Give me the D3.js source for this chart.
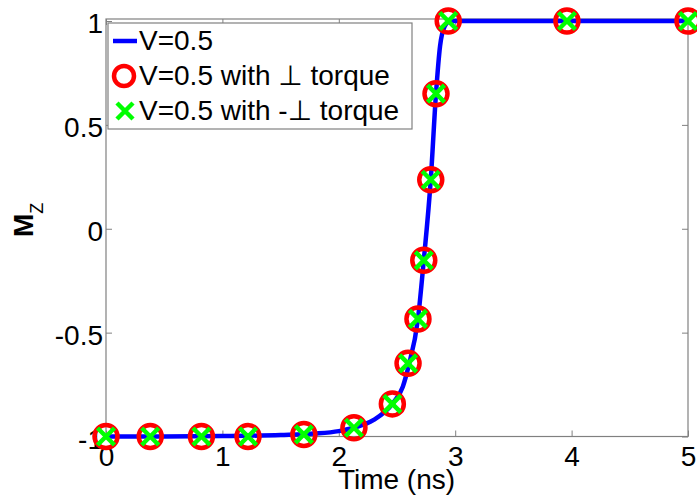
<!DOCTYPE html>
<html>
<head>
<meta charset="utf-8">
<script src="https://cdn.jsdelivr.net/npm/d3@7"></script>
<style>
  html, body { margin: 0; padding: 0; background: #fff; }
  svg text { font-family: "Liberation Sans", Arial, "DejaVu Sans", sans-serif; fill: #000; }
</style>
</head>
<body>
<svg id="chart" width="697" height="500"></svg>
<script>
// Mz switching curve at V = 0.5 (continuous simulation)
const lineTime = [0, 0.5, 1, 1.5, 1.8, 2.0, 2.13, 2.3, 2.46, 2.55, 2.6, 2.68, 2.73, 2.79, 2.835, 2.87, 2.91, 2.95, 3.0, 4, 5];
const lineMz   = [-1, -1, -0.998, -0.993, -0.986, -0.974, -0.958, -0.92, -0.843, -0.76, -0.66, -0.434, -0.152, 0.236, 0.65, 0.88, 0.975, 0.997, 1, 1, 1];

// Sampled points with perpendicular torque (+ and -)
const markTime = [0, 0.38, 0.82, 1.22, 1.7, 2.13, 2.46, 2.595, 2.68, 2.73, 2.79, 2.835, 2.94, 3.96, 5.0];
const perpMz    = [-1, -1, -1, -1, -0.99, -0.958, -0.843, -0.648, -0.434, -0.152, 0.236, 0.65, 1, 1, 1];
const negPerpMz = [-1, -1, -1, -1, -0.99, -0.958, -0.843, -0.648, -0.434, -0.152, 0.236, 0.65, 1, 1, 1];

const xTicks = [0, 1, 2, 3, 4, 5];
const yTicks = [-1, -0.5, 0, 0.5, 1];
const legendLabels = ["V=0.5", "V=0.5 with \u22A5 torque", "V=0.5 with -\u22A5 torque"];

const svg = d3.select("#chart");
const plotL = 106, plotR = 688, plotT = 21, plotB = 436.5;

const x = d3.scaleLinear().domain([0, 5]).range([plotL, plotR]);
const y = d3.scaleLinear().domain([-1, 1]).range([plotB, plotT]);

const axisColor = "#808080";
const fontSize = 28;

// axes box
const gAxes = svg.append("g");
gAxes.append("rect")
  .attr("x", plotL).attr("y", plotT - 2)
  .attr("width", plotR - plotL).attr("height", plotB - plotT + 2)
  .attr("fill", "none").attr("stroke", axisColor).attr("stroke-width", 1.2);

// bottom / top ticks (inward)
const xb = gAxes.append("g").attr("transform", `translate(0,${plotB})`)
  .call(d3.axisBottom(x).tickValues(xTicks).tickSizeInner(-6).tickSizeOuter(0).tickFormat(d3.format("d")));
xb.select(".domain").remove();
xb.selectAll("line").attr("stroke", axisColor);
xb.selectAll("text").attr("font-size", fontSize).attr("dy", 0).attr("y", 29);

const xt = gAxes.append("g").attr("transform", `translate(0,${plotT - 2})`)
  .call(d3.axisTop(x).tickValues(xTicks).tickSizeInner(-6).tickSizeOuter(0).tickFormat(""));
xt.select(".domain").remove();
xt.selectAll("line").attr("stroke", axisColor);

// left / right ticks (inward)
const yl = gAxes.append("g").attr("transform", `translate(${plotL},0)`)
  .call(d3.axisLeft(y).tickValues(yTicks).tickSizeInner(-6).tickSizeOuter(0).tickFormat(d => String(d)));
yl.select(".domain").remove();
yl.selectAll("line").attr("stroke", axisColor);
yl.selectAll("text").attr("font-size", fontSize).attr("x", -3).attr("dy", "0.42em");

const yr = gAxes.append("g").attr("transform", `translate(${plotR},0)`)
  .call(d3.axisRight(y).tickValues(yTicks).tickSizeInner(-6).tickSizeOuter(0).tickFormat(""));
yr.select(".domain").remove();
yr.selectAll("line").attr("stroke", axisColor);

// axis titles
svg.append("text")
  .attr("x", 396.5).attr("y", 489)
  .attr("text-anchor", "middle").attr("font-size", fontSize)
  .text("Time (ns)");

const yTitle = svg.append("text")
  .attr("transform", "translate(33,237) rotate(-90)")
  .attr("text-anchor", "start").attr("font-size", fontSize).attr("font-weight", "bold");
yTitle.append("tspan").text("M");
yTitle.append("tspan").attr("font-size", 18).attr("font-weight", "normal").attr("dy", 10).text("Z");

// curve
const lineData = lineTime.map((t, i) => [t, lineMz[i]]);
svg.append("path")
  .datum(lineData)
  .attr("fill", "none").attr("stroke", "#0000ff").attr("stroke-width", 4.5)
  .attr("stroke-linejoin", "round")
  .attr("d", d3.line().x(d => x(d[0])).y(d => y(d[1])).curve(d3.curveMonotoneX));

// circle markers
const perpData = markTime.map((t, i) => [t, perpMz[i]]);
svg.append("g").selectAll("circle").data(perpData).join("circle")
  .attr("cx", d => x(d[0])).attr("cy", d => y(d[1])).attr("r", 11.5)
  .attr("fill", "none").attr("stroke", "#ff0000").attr("stroke-width", 4.5);

// cross markers
const crossPath = s => `M${-s},${-s}L${s},${s}M${-s},${s}L${s},${-s}`;
const negData = markTime.map((t, i) => [t, negPerpMz[i]]);
svg.append("g").selectAll("path").data(negData).join("path")
  .attr("transform", d => `translate(${x(d[0])},${y(d[1])})`)
  .attr("d", crossPath(8.5))
  .attr("fill", "none").attr("stroke", "#00ff00").attr("stroke-width", 4.5);

// legend
const lg = svg.append("g");
lg.append("rect")
  .attr("x", 108).attr("y", 23).attr("width", 304).attr("height", 106)
  .attr("fill", "#fff").attr("stroke", axisColor).attr("stroke-width", 1.2);
const rowY = [41, 76, 111];
lg.append("line").attr("x1", 113).attr("x2", 137).attr("y1", rowY[0]).attr("y2", rowY[0])
  .attr("stroke", "#0000ff").attr("stroke-width", 4.5);
lg.append("circle").attr("cx", 124).attr("cy", rowY[1]).attr("r", 10)
  .attr("fill", "none").attr("stroke", "#ff0000").attr("stroke-width", 4.5);
lg.append("path").attr("transform", `translate(125,${rowY[2]})`).attr("d", crossPath(8))
  .attr("fill", "none").attr("stroke", "#00ff00").attr("stroke-width", 4.5);
lg.selectAll("text.lab").data(legendLabels).join("text")
  .attr("class", "lab")
  .attr("x", 139).attr("y", (d, i) => rowY[i] + 9)
  .attr("font-size", fontSize)
  .text(d => d);
</script>
</body>
</html>
